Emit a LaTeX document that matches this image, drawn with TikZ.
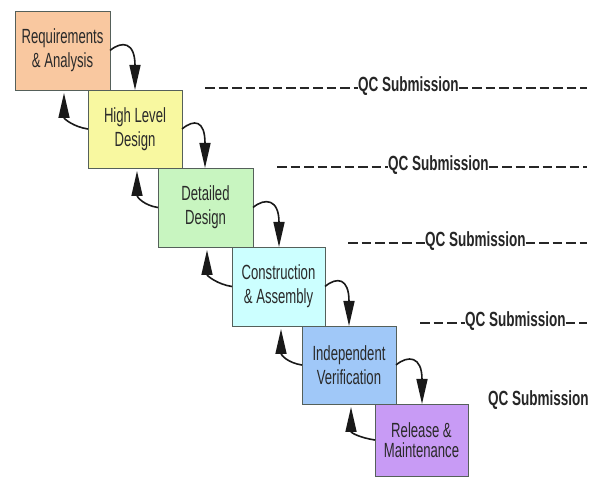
\documentclass[tikz,border=0pt]{standalone}
\usepackage{fontspec}
\setmainfont{Liberation Sans}
\newfontfamily\boxfont[FakeStretch=0.64]{Liberation Sans}
\newfontfamily\qcfont[FakeStretch=0.66]{Liberation Sans Bold}
\usetikzlibrary{arrows.meta,calc}
\definecolor{cA}{HTML}{F9C8A0}
\definecolor{cB}{HTML}{F8F8A0}
\definecolor{cC}{HTML}{C8F5C0}
\definecolor{cD}{HTML}{CCFFFF}
\definecolor{cE}{HTML}{A0C8F8}
\definecolor{cF}{HTML}{C89BF5}
\definecolor{boxline}{HTML}{55605A}
\definecolor{txt}{HTML}{2A2A2A}
\tikzset{
  stepbox/.style={draw=boxline, line width=0.9pt, inner sep=0pt, outer sep=0pt,
    minimum width=94pt, minimum height=78pt, align=center, text=txt,
    font=\boxfont\fontsize{20.5}{24}\selectfont},
  qcnode/.style={inner sep=0pt, outer sep=0pt, anchor=west, text=black!85,
    font=\qcfont\fontsize{20.5}{22}\selectfont},
  dashline/.style={draw=black!85, line width=1.5pt, dash pattern=on 9.5pt off 4pt},
  flow/.style={draw=black!90, line width=1.6pt, -{Triangle[length=25pt,width=11pt]}}
}
\begin{document}
\begin{tikzpicture}[x=1pt,y=-1pt]
\useasboundingbox (0,0) rectangle (598,478);
% boxes
\node[stepbox, fill=cA, minimum width=95pt, minimum height=79pt] (b1) at (62.5,50.5) {Requirements\\\& Analysis};
\node[stepbox, fill=cB] (b2) at (135,129) {High Level\\Design};
\node[stepbox, fill=cC, minimum width=95pt, minimum height=79pt] (b3) at (205.5,207.5) {Detailed\\Design};
\node[stepbox, fill=cD, minimum width=93pt, minimum height=79pt] (b4) at (278.5,286.5) {Construction\\\& Assembly};
\node[stepbox, fill=cE] (b5) at (349,365) {Independent\\Verification};
\node[stepbox, fill=cF, minimum width=93pt, minimum height=72pt, font=\boxfont\fontsize{20.5}{20}\selectfont] (b6) at (421.5,440) {Release \&\\Maintenance};
% forward arrows
\foreach \i/\j in {b1/b2,b2/b3,b3/b4,b4/b5,b5/b6}{
  \coordinate (t-\i) at ($(\j.north west)+(47,0)$);
  \draw[flow] (\i.east) .. controls ($(\i.east)+(12,-10)$) and ($(t-\i)+(0,-48)$) .. (t-\i);
}
% backward arrows
\foreach \i/\j in {b1/b2,b2/b3,b3/b4,b4/b5,b5/b6}{
  \coordinate (u-\j) at ($(\i.south west)+(49,3)$);
  \draw[flow] (\j.west) .. controls ($(\j.west)+(-14,-2)$) and ($(u-\j)+(0,26)$) .. (u-\j);
}
% QC submission lines
\node[qcnode] (q1) at (358,86) {QC Submission};
\coordinate (l1) at (205,88); \coordinate (r1) at (587,88);
\draw[dashline] (l1) -- (l1 -| q1.west);
\draw[dashline] (r1 -| q1.east) -- (r1);
\node[qcnode] (q2) at (388,165) {QC Submission};
\coordinate (l2) at (277,167); \coordinate (r2) at (587,167);
\draw[dashline] (l2) -- (l2 -| q2.west);
\draw[dashline] (r2 -| q2.east) -- (r2);
\node[qcnode] (q3) at (425,241) {QC Submission};
\coordinate (l3) at (348,243); \coordinate (r3) at (587,243);
\draw[dashline] (l3) -- (l3 -| q3.west);
\draw[dashline] (r3 -| q3.east) -- (r3);
\node[qcnode] (q4) at (465,321) {QC Submission};
\coordinate (l4) at (420,323); \coordinate (r4) at (587,323);
\draw[dashline] (l4) -- (l4 -| q4.west);
\draw[dashline] (r4 -| q4.east) -- (r4);
\node[qcnode] (q5) at (488,400) {QC Submission};
\end{tikzpicture}
\end{document}
